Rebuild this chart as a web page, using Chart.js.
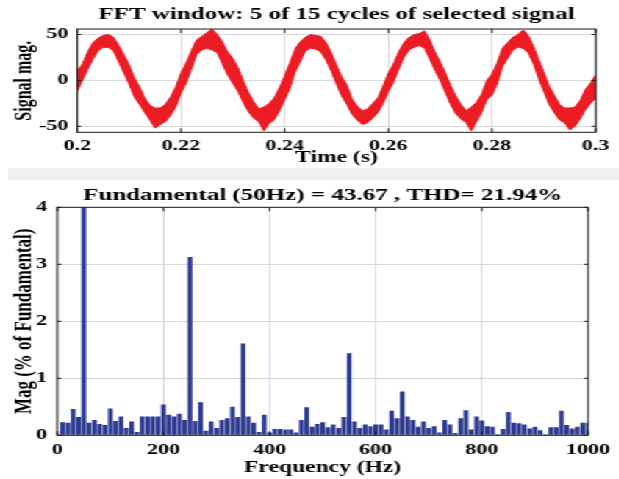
<!DOCTYPE html>
<html><head><meta charset="utf-8">
<script src="https://cdn.jsdelivr.net/npm/chart.js@4/dist/chart.umd.min.js"></script>
<style>
html,body{margin:0;padding:0;background:#fff;width:619px;height:479px;overflow:hidden}
#band{position:absolute;left:8px;top:168px;width:611px;height:12px;background:#f0f0f0}
#wrap{position:absolute;left:0;top:0;width:421px;height:479px;transform:scaleX(1.47);transform-origin:0 0}
#c1{position:absolute;left:0;top:0}
#c2{position:absolute;left:0;top:175px}
</style></head><body>
<div id="band"></div>
<div id="wrap"><canvas id="c1" width="421" height="170"></canvas><canvas id="c2" width="421" height="304"></canvas></div>
<script>
// ---------- data ----------
const timeS = [0.200,0.201,0.202,0.203,0.204,0.205,0.206,0.207,0.208,0.209,
  0.210,0.211,0.212,0.213,0.214,0.215,0.216,0.217,0.218,0.219,
  0.220,0.221,0.222,0.223,0.224,0.225,0.226,0.227,0.228,0.229,
  0.230,0.231,0.232,0.233,0.234,0.235,0.236,0.237,0.238,0.239,
  0.240,0.241,0.242,0.243,0.244,0.245,0.246,0.247,0.248,0.249,
  0.250,0.251,0.252,0.253,0.254,0.255,0.256,0.257,0.258,0.259,
  0.260,0.261,0.262,0.263,0.264,0.265,0.266,0.267,0.268,0.269,
  0.270,0.271,0.272,0.273,0.274,0.275,0.276,0.277,0.278,0.279,
  0.280,0.281,0.282,0.283,0.284,0.285,0.286,0.287,0.288,0.289,
  0.290,0.291,0.292,0.293,0.294,0.295,0.296,0.297,0.298,0.299,0.300];
// upper / lower edge of the noisy signal band
const signalUpper = [10,18,31,41,46,49,50,47,38,28,
  17,3,-7,-19,-27,-30,-30,-26,-18,-7,
  8,19,32,44,48,52,56,50,42,31,
  24,14,0,-13,-23,-31,-29,-25,-19,-8,
  5,19,34,42,47,50,49,48,41,30,
  17,4,-5,-20,-28,-33,-31,-25,-19,-6,
  8,18,31,41,47,50,51,54,44,31,
  20,8,-5,-17,-26,-33,-29,-24,-15,0,
  7,19,35,41,47,50,55,49,37,23,
  9,-6,-16,-26,-30,-30,-29,-22,-10,-3,6];
const signalLower = [-12,0,12,23,32,36,36,32,20,8,
  -4,-18,-26,-35,-43,-52,-48,-45,-38,-29,
  -14,-3,12,28,33,35,33,30,18,6,
  -3,-12,-24,-34,-41,-45,-55,-47,-43,-33,
  -21,-9,9,20,32,35,34,31,22,10,
  -4,-17,-26,-37,-43,-48,-46,-41,-35,-25,
  -12,-2,12,25,33,36,38,35,23,11,
  0,-13,-26,-36,-42,-46,-55,-45,-35,-21,
  -16,-4,15,24,33,36,35,30,18,2,
  -12,-26,-35,-43,-46,-54,-50,-42,-32,-25,-19];
const timeTicks = [0.2,0.22,0.24,0.26,0.28,0.3];
const timeTickLabels = ['0.2','0.22','0.24','0.26','0.28','0.3'];
const signalTicks = [-50,0,50];

const freqHz = [0,10,20,30,40,50,60,70,80,90,100,110,120,130,140,150,160,170,180,190,
  200,210,220,230,240,250,260,270,280,290,300,310,320,330,340,350,360,370,380,390,
  400,410,420,430,440,450,460,470,480,490,500,510,520,530,540,550,560,570,580,590,
  600,610,620,630,640,650,660,670,680,690,700,710,720,730,740,750,760,770,780,790,
  800,810,820,830,840,850,860,870,880,890,900,910,920,930,940,950,960,970,980,990,1000];
// % of fundamental (fundamental = 100, clipped by the axis)
const harmonicMag = [0,0.23,0.22,0.46,0.32,100,0.22,0.27,0.20,0.18,
  0.47,0.25,0.33,0.13,0.24,0.06,0.33,0.33,0.33,0.33,
  0.54,0.36,0.33,0.38,0.27,3.13,0.25,0.58,0.08,0.24,
  0.13,0.27,0.30,0.50,0.32,1.61,0.33,0.22,0.06,0.36,
  0.05,0.11,0.11,0.10,0.10,0.05,0.27,0.49,0.15,0.20,
  0.23,0.14,0.19,0.13,0.32,1.44,0.24,0.13,0.19,0.16,
  0.19,0.19,0.10,0.43,0.30,0.77,0.33,0.27,0.15,0.24,
  0.13,0.16,0.05,0.27,0.19,0.04,0.30,0.44,0.10,0.33,
  0.26,0.16,0.15,0.02,0.11,0.41,0.22,0.21,0.19,0.12,
  0.15,0.09,0.02,0.14,0.14,0.43,0.18,0.12,0.15,0.22,0.22];
const freqTicks = [0,200,400,600,800,1000];
const pctTicks = [0,1,2,3,4];

const topTitle = 'FFT window: 5 of 15 cycles of selected signal';
const bottomTitle = 'Fundamental (50Hz) = 43.67 , THD= 21.94%';

// ---------- styling ----------
const SX = 1.47;
const SERIF = "'Liberation Serif','Times New Roman',serif";
const RED = '#ec1c24';
const BLUE = '#2b3990';
const GRID = '#d9d9d9';
Chart.defaults.font.family = SERIF;
Chart.defaults.color = '#000';

const boxPlugin = {
  id: 'box',
  afterDraw(chart, args, opts) {
    const {ctx, chartArea: a, scales} = chart;
    ctx.save();
    ctx.strokeStyle = '#1a1a1a';
    ctx.lineWidth = 1;
    ctx.strokeRect(a.left, a.top, a.right - a.left, a.bottom - a.top);
    ctx.beginPath();
    const tv = 4, th = 4 / SX;
    scales.x.ticks.forEach(t => {
      const p = scales.x.getPixelForValue(t.value);
      ctx.moveTo(p, a.bottom); ctx.lineTo(p, a.bottom - tv);
      ctx.moveTo(p, a.top); ctx.lineTo(p, a.top + tv);
    });
    scales.y.ticks.forEach(t => {
      const p = scales.y.getPixelForValue(t.value);
      ctx.moveTo(a.left, p); ctx.lineTo(a.left + th, p);
      ctx.moveTo(a.right, p); ctx.lineTo(a.right - th, p);
    });
    ctx.stroke();
    // title centred over the plot area
    ctx.fillStyle = '#000';
    ctx.font = 'bold 17px ' + SERIF;
    ctx.textAlign = 'center';
    ctx.textBaseline = 'middle';
    ctx.fillText(opts.text, (a.left + a.right) / 2, opts.y);
    ctx.restore();
  }
};

const tickFont = {family: SERIF, size: 15, weight: 'bold'};
const axisTitleFont = {family: SERIF, size: 16, weight: 'bold', lineHeight: 1.2};

// ---------- top chart ----------
new Chart(document.getElementById('c1'), {
  type: 'line',
  data: {
    datasets: [
      {data: timeS.map((t, i) => ({x: t, y: signalUpper[i]})), borderColor: RED, backgroundColor: RED,
       borderWidth: 1, pointRadius: 0, fill: false, tension: 0},
      {data: timeS.map((t, i) => ({x: t, y: signalLower[i]})), borderColor: RED, backgroundColor: RED,
       borderWidth: 1, pointRadius: 0, fill: '-1', tension: 0}
    ]
  },
  options: {
    responsive: false, animation: false, devicePixelRatio: 1,
    layout: {padding: {left: 0, right: 421 - 595.7 / SX, top: 29, bottom: 2.4}},
    plugins: {
      legend: {display: false}, tooltip: {enabled: false}, title: {display: false},
      box: {text: topTitle, y: 15}
    },
    scales: {
      x: {
        type: 'linear', min: 0.2, max: 0.3,
        afterBuildTicks: s => { s.ticks = timeTicks.map(v => ({value: v})); },
        afterFit: s => { s.height = 170 - 2.4 - 132.3; },
        grid: {color: GRID, drawTicks: false}, border: {display: false},
        ticks: {font: tickFont, padding: 5, autoSkip: false, maxRotation: 0,
                callback: (v, i) => timeTickLabels[i]},
        title: {display: true, text: 'Time (s)', font: axisTitleFont, padding: 0}
      },
      y: {
        min: -56.5, max: 56,
        afterBuildTicks: s => { s.ticks = signalTicks.map(v => ({value: v})); },
        afterFit: s => { s.width = 77.3 / SX; },
        grid: {color: GRID, drawTicks: false}, border: {display: false},
        ticks: {font: tickFont, padding: 6, callback: v => String(v)},
        title: {display: true, text: 'Signal mag.', font: axisTitleFont, padding: {top: 7, bottom: 0}}
      }
    }
  },
  plugins: [boxPlugin]
});

// ---------- bottom chart ----------
new Chart(document.getElementById('c2'), {
  type: 'bar',
  data: {
    datasets: [{data: freqHz.map((f, i) => ({x: f, y: harmonicMag[i]})), backgroundColor: BLUE,
                borderWidth: 0, barPercentage: 0.88, categoryPercentage: 1}]
  },
  options: {
    responsive: false, animation: false, devicePixelRatio: 1,
    layout: {padding: {left: 0, right: 421 - 595.5 / SX, top: 32.3, bottom: 1.4}},
    plugins: {
      legend: {display: false}, tooltip: {enabled: false}, title: {display: false},
      box: {text: bottomTitle, y: 20.5}
    },
    scales: {
      x: {
        type: 'linear', min: 0, max: 1000, offset: false,
        afterBuildTicks: s => { s.ticks = freqTicks.map(v => ({value: v})); },
        afterFit: s => { s.height = 304 - 1.4 - 260.3; },
        grid: {color: GRID, drawTicks: false, offset: false}, border: {display: false},
        ticks: {font: tickFont, padding: 6, autoSkip: false, maxRotation: 0, callback: v => String(v)},
        title: {display: true, text: 'Frequency (Hz)', font: axisTitleFont, padding: 0}
      },
      y: {
        min: 0, max: 4,
        afterBuildTicks: s => { s.ticks = pctTicks.map(v => ({value: v})); },
        afterFit: s => { s.width = 57.3 / SX; },
        grid: {color: GRID, drawTicks: false}, border: {display: false},
        ticks: {font: tickFont, padding: 7, callback: v => String(v)},
        title: {display: true, text: 'Mag (% of Fundamental)', font: {family: SERIF, size: 17, weight: 'bold', lineHeight: 1.2},
                padding: {top: 6.5, bottom: 0}}
      }
    }
  },
  plugins: [boxPlugin]
});
</script>
</body></html>
